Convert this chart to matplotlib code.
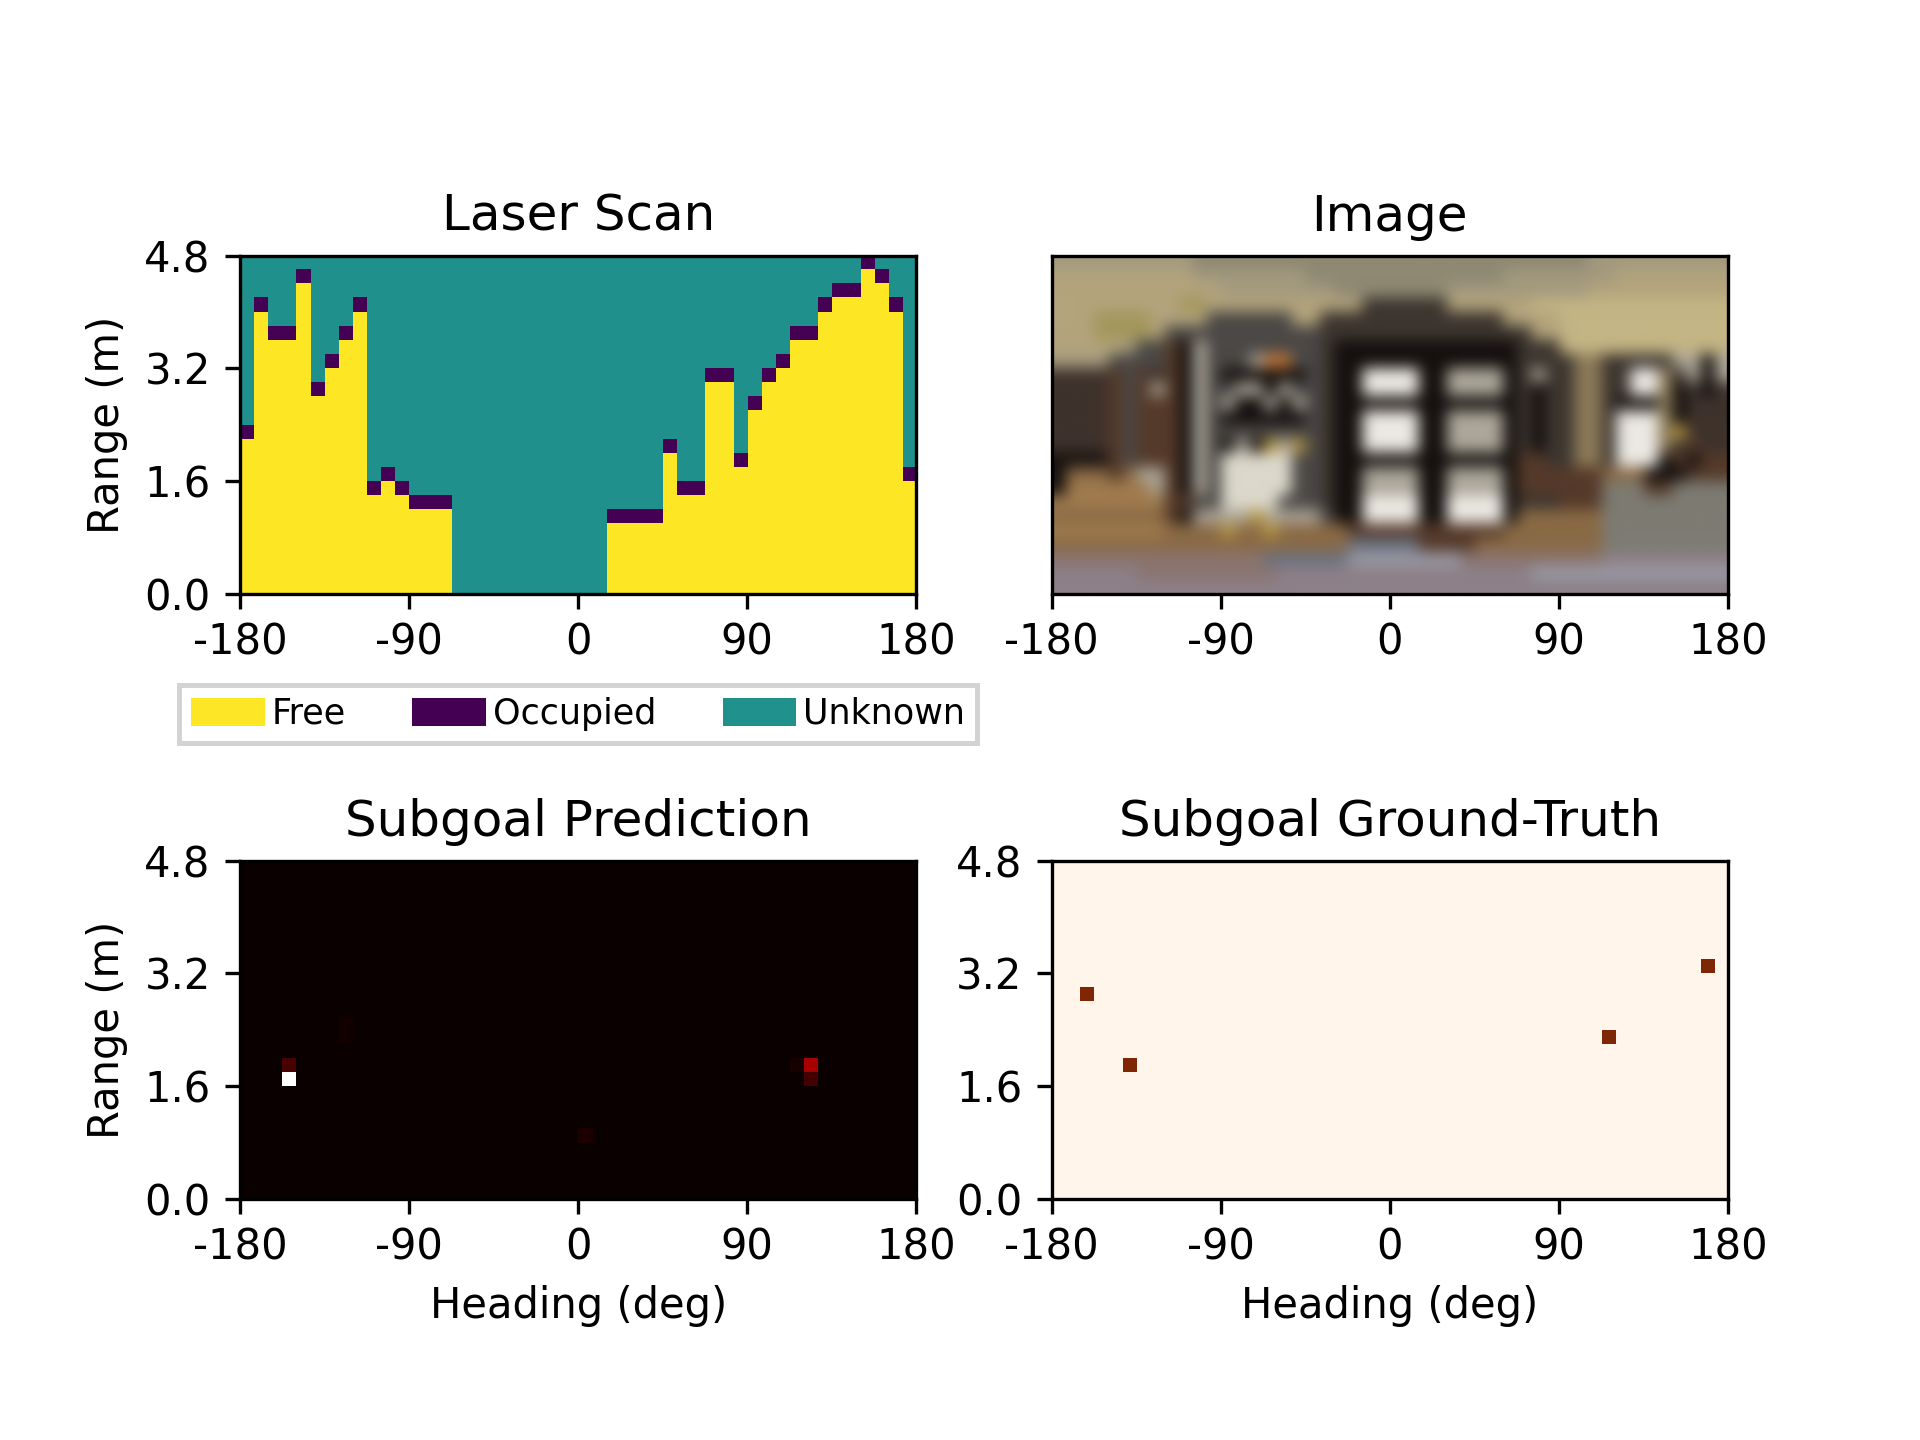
import re

import numpy as np
import matplotlib
matplotlib.use('Agg')
import matplotlib.pyplot as plt
from matplotlib.colors import to_rgb
from matplotlib.patches import Patch

N_RANGE = 24
N_HEADING = 48

heading_ticks = [-180, -90, 0, 90, 180]
heading_labels = ['-180', '-90', '0', '90', '180']
range_ticks = [0.0, 1.6, 3.2, 4.8]
range_labels = ['0.0', '1.6', '3.2', '4.8']

# occupied range bin for each heading bin, -1 where the whole column is unknown
occupied_bin = [11, 20, 18, 18, 22, 14, 16, 18, 20, 7, 8, 7, 6, 6, 6,
                -1, -1, -1, -1, -1, -1, -1, -1, -1, -1, -1,
                5, 5, 5, 5, 10, 7, 7, 15, 15, 9, 13, 15, 16, 18, 18,
                20, 21, 21, 23, 22, 20, 8]

# subgoal prediction cells that differ from the background
pred_cols = [3, 3, 40, 40, 39, 7, 7, 24]
pred_rows = [8, 9, 9, 8, 9, 11, 12, 4]
pred_vals = [1.0, 0.094, 0.238, 0.086, 0.02, 0.015, 0.015, 0.03]
pred_background = 0.0

# subgoal ground truth cells
truth_cols = [2, 5, 39, 46]
truth_rows = [14, 9, 11, 16]

# rough colours of the panorama, one run-length row per range bin, top row first
pano_palette = {
    'g': '#8f8973', 'h': '#a39a7e', 'c': '#b3a47c', 'y': '#a3975c', 'C': '#c4b585',
    'w': '#4b4846', 'd': '#3d3630', 'k': '#15100e', 'W': '#ece9e4', 'E': '#dcd9cc',
    's': '#aca79a', 'r': '#553a2a', 'b': '#3e322c', 'P': '#8c7a58',
    'e': '#c87a3a', 't': '#b8983f', 'f': '#8a6a45', 'F': '#a07b4e',
    'R': '#7d7b72', 'n': '#6a7280', 'm': '#8a7470', 'B': '#8d8088',
    'l': '#9a9aa5',
}
pano_rows = [
    '10h 28g 10h',
    '10c 8h 14g 8h 8c',
    '12c 8h 8g 10h 10c',
    '9c 2y 11c 6d 6c 14C',
    '3c 4y 4c 6w 2c 13d 4c 12C',
    '3c 4y 1c 11w 15d 2c 12C',
    '5c 1h 2w 1r 1k 1s 8w 1d 13k 3d 12C',
    '4h 4w 1r 1k 1s 3w 1s 2e 2w 1d 13k 3d 1d 2P 5d 1s 1s 1k 1s',
    '4b 1r 1w 1r 1d 1r 1k 1s 1w 6k 1w 1d 2k 4W 2k 4s 1k 1d 1s 2d 2P 2d 2W 1P 1d 1s 1k 1s',
    '4b 1r 1w 1r 1s 1r 1k 1s 1w 1w 2s 1k 1s 2w 1d 2k 4W 2k 4s 1k 1d 1k 2d 2P 2d 2W 1P 1k 1b 1k 1b',
    '4b 1r 1w 3r 1k 1s 1w 1s 2k 1s 1k 1s 1w 1d 13k 1d 1k 2d 2P 1d 3k 1P 1k 3b',
    '4b 1r 1w 3r 1k 1s 1w 6k 1w 1d 2k 4W 2k 4s 1k 1d 1k 2d 2P 1d 3W 1P 1k 3b',
    '4b 1r 1w 3r 1k 1s 8w 1d 2k 4W 2k 4s 1k 1d 1k 2d 2P 1d 3W 1P 1t 3b',
    '4b 1r 1w 3r 1k 1s 1w 1k 1s 1k 1t 1s 1t 1w 1d 2k 4W 2k 4s 1k 1d 1k 2d 2P 1d 3W 1P 1d 1r 2b',
    '4k 1r 1w 3r 1k 1s 1w 5E 2w 1d 13k 2r 2d 2P 1d 3W 1k 1r 1k 2r',
    '1k 3f 1r 1f 2s 1r 1k 1s 1w 5E 2w 1d 2k 4s 2k 4s 1k 4r 2r 3f 3k 3r',
    '1k 6F 1s 1r 1k 1s 1w 5E 2w 1d 2k 4s 2k 4s 1k 6r 3R 2r 4R',
    '8F 2r 2w 4E 3w 1d 2k 4W 2k 4W 1k 3d 3r 9R',
    '8f 1r 1k 4s 1t 4s 1w 2k 4W 2k 4W 1k 6f 9R',
    '8F 4f 1t 2f 1t 5f 11r 7f 9R',
    '21f 5n 4r 9f 9R',
    '15m 6n 8l 10m 9B',
    '6B 10m 18B 14l',
    '48B',
]

legend_labels = ['Free', 'Occupied', 'Unknown']
FREE, OCCUPIED, UNKNOWN = 1.0, 0.0, 0.5

plt.rcParams['font.size'] = 12.5
plt.rcParams['axes.titlesize'] = 15
plt.rcParams['axes.titlepad'] = 7.5
plt.rcParams['axes.labelpad'] = 5
plt.rcParams['axes.linewidth'] = 1
plt.rcParams['xtick.major.size'] = 4.4
plt.rcParams['xtick.major.pad'] = 3.9
plt.rcParams['xtick.major.width'] = 1
plt.rcParams['ytick.major.size'] = 4.4
plt.rcParams['ytick.major.pad'] = 4.4
plt.rcParams['ytick.major.width'] = 1


def expand_rows(rows, palette):
    out = []
    for row in rows:
        line = []
        for count, key in re.findall(r'(\d+)(\w)', row):
            line += [to_rgb(palette[key])] * int(count)
        out.append(line)
    return np.array(out)


def laser_grid():
    grid = np.full((N_RANGE, N_HEADING), UNKNOWN)
    for col, row in enumerate(occupied_bin):
        if row >= 0:
            grid[:row, col] = FREE
            grid[row, col] = OCCUPIED
    return grid


def show(ax, data, **kw):
    ax.imshow(data, origin='lower', extent=[-180, 180, 0, 4.8], aspect=37.5, **kw)
    ax.set_xticks(heading_ticks)
    ax.set_xticklabels(heading_labels)
    ax.set_yticks(range_ticks)
    ax.set_yticklabels(range_labels)


fig, axes = plt.subplots(2, 2, figsize=(8, 6))
ax_scan, ax_image, ax_pred, ax_truth = axes.ravel()

show(ax_scan, laser_grid(), cmap='viridis', vmin=0, vmax=1, interpolation='nearest')
ax_scan.set_title('Laser Scan')
ax_scan.set_ylabel('Range (m)')

cmap = plt.get_cmap('viridis')
handles = [Patch(facecolor=cmap(v), label=name)
           for v, name in zip([FREE, OCCUPIED, UNKNOWN], legend_labels)]
leg = ax_scan.legend(handles=handles, ncol=3, loc='upper center', bbox_to_anchor=(0.5, -0.268),
                     fancybox=False, edgecolor='lightgray', framealpha=1, fontsize=10.5,
                     handlelength=2.1, handleheight=0.85, handletextpad=0.2, columnspacing=1.9,
                     borderpad=0.35, borderaxespad=0)
leg.get_frame().set_linewidth(1.5)

show(ax_image, expand_rows(pano_rows, pano_palette)[::-1], interpolation='bicubic')
ax_image.set_title('Image')
ax_image.set_yticks([])

pred = np.full((N_RANGE, N_HEADING), pred_background)
pred[pred_rows, pred_cols] = pred_vals
show(ax_pred, pred, cmap='hot', vmin=0, vmax=1, interpolation='nearest')
ax_pred.set_title('Subgoal Prediction')
ax_pred.set_ylabel('Range (m)')
ax_pred.set_xlabel('Heading (deg)')

truth = np.zeros((N_RANGE, N_HEADING))
truth[truth_rows, truth_cols] = 1.0
show(ax_truth, truth, cmap='Oranges', vmin=0, vmax=1, interpolation='nearest')
ax_truth.set_title('Subgoal Ground-Truth')
ax_truth.set_xlabel('Heading (deg)')

plt.savefig('out.png', dpi=240)
